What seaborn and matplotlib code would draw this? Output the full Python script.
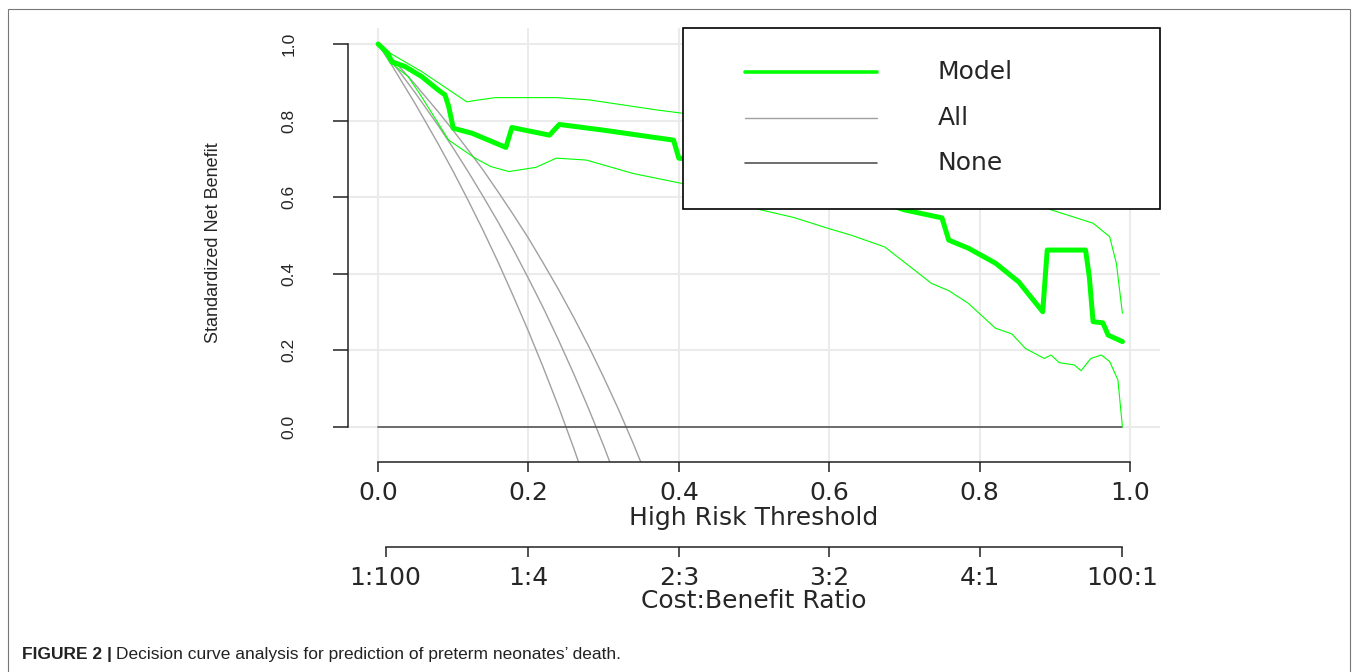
import numpy as np
import pandas as pd
import matplotlib
matplotlib.use("Agg")
import matplotlib.pyplot as plt
import seaborn as sns
from matplotlib.patches import Rectangle

# -------------------------
# Data (threshold, standardized net benefit)
# -------------------------
model_thr = [0.000, 0.013, 0.018, 0.036, 0.058, 0.080, 0.089, 0.094, 0.100, 0.125,
             0.170, 0.178, 0.228, 0.241, 0.300, 0.393, 0.400, 0.450, 0.500, 0.550,
             0.600, 0.650, 0.700, 0.750, 0.759, 0.785, 0.821, 0.852, 0.884, 0.890,
             0.941, 0.946, 0.951, 0.964, 0.971, 0.990]
model_snb = [1.000, 0.976, 0.954, 0.941, 0.915, 0.880, 0.867, 0.836, 0.780, 0.767,
             0.730, 0.782, 0.762, 0.790, 0.775, 0.749, 0.702, 0.690, 0.670, 0.650,
             0.630, 0.600, 0.567, 0.546, 0.488, 0.467, 0.428, 0.379, 0.301, 0.462,
             0.462, 0.392, 0.275, 0.272, 0.240, 0.223]

upper_thr = [0.000, 0.016, 0.058, 0.118, 0.134, 0.156, 0.237, 0.281, 0.370, 0.406,
             0.500, 0.600, 0.700, 0.800, 0.860, 0.895, 0.924, 0.951, 0.973, 0.982, 0.990]
upper_snb = [1.000, 0.976, 0.928, 0.849, 0.854, 0.860, 0.860, 0.854, 0.828, 0.819,
             0.800, 0.770, 0.720, 0.660, 0.610, 0.567, 0.549, 0.532, 0.497, 0.427, 0.297]

lower_thr = [0.000, 0.018, 0.040, 0.058, 0.094, 0.129, 0.150, 0.174, 0.210, 0.237,
             0.277, 0.339, 0.404, 0.450, 0.509, 0.553, 0.598, 0.629, 0.674, 0.710,
             0.736, 0.759, 0.785, 0.821, 0.843, 0.861, 0.886, 0.895, 0.906, 0.926,
             0.935, 0.948, 0.962, 0.973, 0.984, 0.990]
lower_snb = [1.000, 0.949, 0.915, 0.862, 0.749, 0.702, 0.680, 0.667, 0.678, 0.702,
             0.697, 0.662, 0.636, 0.610, 0.567, 0.547, 0.519, 0.501, 0.470, 0.415,
             0.375, 0.356, 0.323, 0.258, 0.243, 0.205, 0.179, 0.188, 0.168, 0.162,
             0.147, 0.179, 0.188, 0.171, 0.123, 0.001]

all_thr = [0.00, 0.02, 0.05, 0.08, 0.10, 0.12, 0.14, 0.16, 0.18, 0.20,
           0.22, 0.24, 0.26, 0.28, 0.30, 0.32, 0.34, 0.36]
all_a = [1.000, 0.939, 0.842, 0.739, 0.667, 0.591, 0.512, 0.429, 0.341, 0.250,
         0.154, 0.053, -0.054, -0.167]
all_b = [1.000, 0.950, 0.871, 0.787, 0.728, 0.666, 0.601, 0.534, 0.463, 0.388,
         0.310, 0.227, 0.140, 0.048, -0.049, -0.152]
all_c = [1.000, 0.959, 0.893, 0.823, 0.774, 0.723, 0.670, 0.613, 0.554, 0.493,
         0.427, 0.359, 0.287, 0.211, 0.130, 0.045, -0.046, -0.143]

none_thr = [0.0, 0.99]
none_snb = [0.0, 0.0]

x_ticks = [0.0, 0.2, 0.4, 0.6, 0.8, 1.0]
y_ticks = [0.0, 0.2, 0.4, 0.6, 0.8, 1.0]
ratio_pos = [0.01, 0.2, 0.4, 0.6, 0.8, 0.99]
ratio_labels = ["1:100", "1:4", "2:3", "3:2", "4:1", "100:1"]

GREEN = "#00ff00"
GREY_ALL = "#a0a0a0"
GREY_NONE = "#555555"
AXIS = "#222222"

# -------------------------
# Figure
# -------------------------
sns.set_style("white")
plt.rcParams["font.family"] = ["DejaVu Sans"]

W, H = 1357, 672
fig = plt.figure(figsize=(W / 100, H / 100), dpi=100)

left, right, top, bottom = 348, 1160, 28, 462
ax = fig.add_axes([left / W, 1 - bottom / H, (right - left) / W, (bottom - top) / H])
ax.set_xlim(-0.04, 1.04)
ax.set_ylim(-0.0914, 1.0418)

ax.grid(True, color="#ebebeb", linewidth=1.5)
ax.set_axisbelow(True)

for vals in (all_a, all_b, all_c):
    sns.lineplot(x=all_thr[:len(vals)], y=vals, ax=ax, color=GREY_ALL,
                 linewidth=1.0, sort=False, estimator=None, legend=False)
sns.lineplot(x=none_thr, y=none_snb, ax=ax, color=GREY_NONE, linewidth=1.2,
             sort=False, estimator=None, legend=False)
sns.lineplot(x=upper_thr, y=upper_snb, ax=ax, color=GREEN, linewidth=0.8,
             sort=False, estimator=None, legend=False)
sns.lineplot(x=lower_thr, y=lower_snb, ax=ax, color=GREEN, linewidth=0.8,
             sort=False, estimator=None, legend=False)
sns.lineplot(x=model_thr, y=model_snb, ax=ax, color=GREEN, linewidth=3.6,
             sort=False, estimator=None, legend=False)

# R-style axes: only left and bottom, drawn between 0 and 1
for s in ("top", "right"):
    ax.spines[s].set_visible(False)
for s in ("left", "bottom"):
    ax.spines[s].set_color(AXIS)
    ax.spines[s].set_linewidth(1.1)
    ax.spines[s].set_bounds(0, 1)

ax.set_xticks(x_ticks)
ax.set_xticklabels([f"{v:.1f}" for v in x_ticks], fontsize=18)
ax.set_yticks(y_ticks)
ax.set_yticklabels([f"{v:.1f}" for v in y_ticks], fontsize=12.5,
                   family="Liberation Sans", rotation=90, va="center")
ax.tick_params(axis="x", bottom=True, direction="out", length=7, width=1.1,
               color=AXIS, pad=7)
ax.tick_params(axis="y", left=True, direction="out", length=11, width=1.1,
               color=AXIS, pad=26)

ax.set_xlabel("High Risk Threshold", fontsize=18)
ax.xaxis.label.set_va("center")
ax.xaxis.set_label_coords(0.5, (bottom - 518) / (bottom - top))
ax.set_ylabel("Standardized Net Benefit", fontsize=13, family="Liberation Sans")
ax.yaxis.label.set_va("center")
ax.yaxis.set_label_coords((213 - left) / (right - left), (bottom - 243) / (bottom - top))

# Second axis: cost:benefit ratio
ax2 = fig.add_axes([left / W, 1 - 547 / H, (right - left) / W, 0.0001])
ax2.set_xlim(-0.04, 1.04)
ax2.patch.set_visible(False)
for s in ("top", "right", "left"):
    ax2.spines[s].set_visible(False)
ax2.spines["bottom"].set_color(AXIS)
ax2.spines["bottom"].set_linewidth(1.1)
ax2.spines["bottom"].set_bounds(0.01, 0.99)
ax2.set_yticks([])
ax2.set_xticks(ratio_pos)
ax2.set_xticklabels(ratio_labels, fontsize=18)
ax2.tick_params(axis="x", bottom=True, direction="out", length=7, width=1.1,
                color=AXIS, pad=7)
fig.text(((left + right) / 2) / W, 1 - 601 / H, "Cost:Benefit Ratio",
         fontsize=18, ha="center", va="center")

# Legend box (R style, top right of plot region)
lx0 = (683 - left) / (right - left)
ly0 = (bottom - 209) / (bottom - top)
ax.add_patch(Rectangle((lx0, ly0), 1 - lx0, 1 - ly0, transform=ax.transAxes,
                       facecolor="white", edgecolor="black", linewidth=1.2,
                       zorder=5, clip_on=False))
leg_items = [("Model", GREEN, 2.6, 72), ("All", GREY_ALL, 1.0, 118),
             ("None", GREY_NONE, 1.2, 163)]
hx0 = (745 - left) / (right - left)
hx1 = (877 - left) / (right - left)
tx = (938 - left) / (right - left)
for label, col, lw, py in leg_items:
    yy = (bottom - py) / (bottom - top)
    ax.plot([hx0, hx1], [yy, yy], transform=ax.transAxes, color=col,
            linewidth=lw, zorder=6, clip_on=False)
    ax.text(tx, yy, label, transform=ax.transAxes, fontsize=18,
            ha="left", va="center", zorder=6)

# Outer frame and caption
fig.add_artist(Rectangle((8 / W, -0.05), (1350 - 8) / W, 1.05 - 9 / H,
                         transform=fig.transFigure, fill=False,
                         edgecolor="#777777", linewidth=0.8))
cap_y = 1 - 655 / H
t1 = fig.text(22 / W, cap_y, "FIGURE 2 |", fontsize=12.5, fontweight="bold",
              family="Liberation Sans", color="#222222", ha="left", va="center")
fig.canvas.draw()
bb = t1.get_window_extent(renderer=fig.canvas.get_renderer())
fig.text((bb.x1 + 4) / W, cap_y,
         "Decision curve analysis for prediction of preterm neonates\u2019 death.",
         fontsize=12.5, family="Liberation Sans", color="#222222",
         ha="left", va="center")

fig.savefig("out.png", dpi=100)
